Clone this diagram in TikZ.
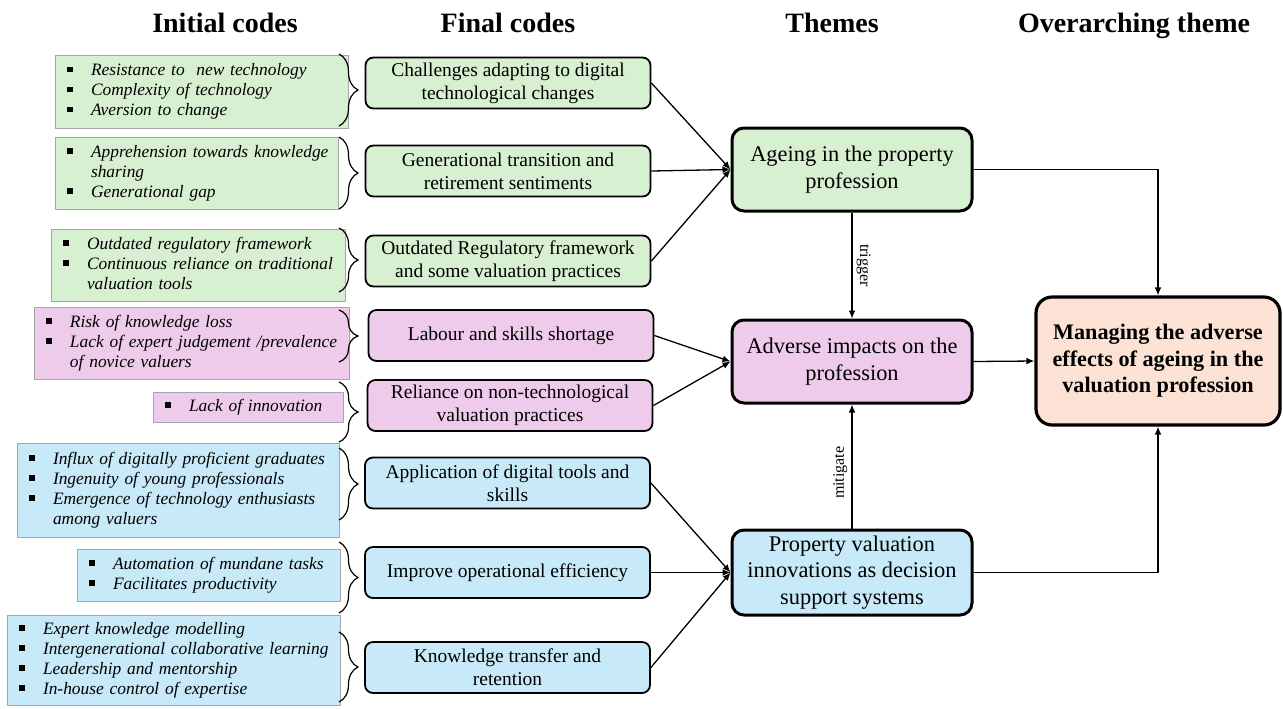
\documentclass[tikz,border=0pt]{standalone}
\usepackage{fontspec}
\setmainfont{Liberation Serif}
\usetikzlibrary{positioning, arrows.meta, calc, decorations.pathreplacing}
\definecolor{vpGreen}{HTML}{D8F0D2}
\definecolor{vpPink}{HTML}{EECBEA}
\definecolor{vpBlue}{HTML}{C7E9F8}
\definecolor{vpPeach}{HTML}{FBE2D5}
\definecolor{vpEdge}{HTML}{A6A6A6}
\newcommand{\sqb}{\rule[1.6pt]{2.8pt}{2.8pt}}
\newcommand{\ilist}[1]{\begin{tabular}{@{}p{12pt}@{}l@{}}#1\end{tabular}}
\tikzset{
  vp/.style={x=0.5pt, y=-0.5pt, line width=0.65pt},
  hdr/.style={font=\fontsize{14}{16}\selectfont\bfseries, anchor=base},
  icode/.style={draw=vpEdge, line width=0.5pt, inner xsep=6pt, inner ysep=0pt, align=left, font=\fontsize{8.7}{10}\selectfont\itshape},
  fcode/.style={draw, rounded corners=4pt, line width=0.9pt, minimum width=142.5pt, minimum height=25.5pt, align=center, inner sep=1pt, font=\fontsize{9.75}{11.5}\selectfont},
  theme/.style={draw, rounded corners=6pt, line width=1.5pt, minimum width=120pt, minimum height=41.5pt, align=center, inner sep=1pt, font=\fontsize{11.2}{13.2}\selectfont},
  over/.style={theme, fill=vpPeach, rounded corners=8pt, line width=1.6pt, minimum width=122pt, minimum height=64pt, font=\fontsize{11.1}{13.3}\selectfont\bfseries},
  arr/.style={-{Latex[length=4pt, width=3.4pt]}},
  brc/.style={decorate, decoration={brace, amplitude=9.5pt}, line width=0.6pt},
  lbl/.style={font=\fontsize{8}{9}\selectfont, inner sep=2pt},
}

\begin{document}
\begin{tikzpicture}[
  vp,
]
\useasboundingbox (0,0) rectangle (1283,708);

\node[hdr] (hIni) at (225,32) {Initial codes};
\node[hdr] (hFin) at (508,32) {Final codes};
\node[hdr] (hThm) at (832,32) {Themes};
\node[hdr] (hOvr) at (1134,32) {Overarching theme};

\node[icode, fill=vpGreen, text width=134.5pt, minimum height=36.5pt] (iTec) at (201.5,91.5) {\ilist{\sqb & Resistance to\ \ new technology\\ \sqb & Complexity of technology\\ \sqb & Aversion to change}};
\node[icode, fill=vpGreen, text width=129.5pt, minimum height=36pt] (iGap) at (196.5,173) {\ilist{\sqb & Apprehension towards knowledge\\ & sharing\\ \sqb & Generational gap}};
\node[icode, fill=vpGreen, text width=135pt, minimum height=36pt] (iOld) at (198,265) {\ilist{\sqb & Outdated regulatory framework\\ \sqb & Continuous reliance on traditional\\ & valuation tools}};
\node[icode, fill=vpPink, text width=145.5pt, minimum height=36pt] (iRsk) at (191.5,343) {\ilist{\sqb & Risk of knowledge loss\\ \sqb & Lack of expert judgement /prevalence\\ & of novice valuers}};
\node[icode, fill=vpPink, text width=83pt, minimum height=15pt] (iLck) at (248,407) {\ilist{\sqb & Lack of innovation}};
\node[icode, fill=vpBlue, text width=149pt, minimum height=47pt] (iDig) at (178,490) {\ilist{\sqb & Influx of digitally proficient graduates\\ \sqb & Ingenuity of young professionals\\ \sqb & Emergence of technology enthusiasts\\ & among valuers}};
\node[icode, fill=vpBlue, text width=119.5pt, minimum height=26pt] (iAut) at (208.5,575) {\ilist{\sqb & Automation of mundane tasks\\ \sqb & Facilitates productivity}};
\node[icode, fill=vpBlue, text width=154.5pt, minimum height=45pt] (iExp) at (173.5,660) {\ilist{\sqb & Expert knowledge modelling\\ \sqb & Intergenerational collaborative learning\\ \sqb & Leadership and mentorship\\ \sqb & In-house control of expertise}};

\draw[brc] (339,54) -- (339,126);
\draw[brc] (339,137) -- (339,209);
\draw[brc] (339,228) -- (339,292);
\draw[brc] (339,310) -- (339,362);
\draw[brc] (339,382) -- (339,442);
\draw[brc] (339,448) -- (339,520);
\draw[brc] (339,542) -- (339,613);
\draw[brc] (339,632) -- (339,702);

\node[fcode, fill=vpGreen] (fChl) at (508,83) {Challenges adapting to digital\\technological changes};
\node[fcode, fill=vpGreen] (fGen) at (508,171) {Generational transition and\\retirement sentiments};
\node[fcode, fill=vpGreen] (fReg) at (508,261) {Outdated Regulatory framework\\and some valuation practices};
\node[fcode, fill=vpPink] (fLab) at (511,335.5) {Labour and skills shortage};
\node[fcode, fill=vpPink] (fRel) at (510,405.5) {Reliance on non-technological\\valuation practices};
\node[fcode, fill=vpBlue] (fApp) at (507.5,483) {Application of digital tools and\\skills};
\node[fcode, fill=vpBlue] (fImp) at (507.5,572.5) {Improve operational efficiency};
\node[fcode, fill=vpBlue] (fKno) at (507.5,667.5) {Knowledge transfer and\\retention};

\node[theme, fill=vpGreen] (tAge) at (852,169.5) {Ageing in the property\\profession};
\node[theme, fill=vpPink] (tAdv) at (852,361.5) {Adverse impacts on the\\profession};
\node[theme, fill=vpBlue, minimum height=42.5pt] (tInn) at (852,572.5) {Property valuation\\innovations as decision\\support systems};
\node[over] (oMan) at (1158,361) {Managing the adverse\\effects of ageing in the\\valuation profession};

\draw[arr] (fChl.east) -- (tAge.west);
\draw[arr] (fGen.east) -- (tAge.west);
\draw[arr] (fReg.east) -- (tAge.west);
\draw[arr] (fLab.east) -- (tAdv.west);
\draw[arr] (fRel.east) -- (tAdv.west);
\draw[arr] (fApp.east) -- (tInn.west);
\draw[arr] (fImp.east) -- (tInn.west);
\draw[arr] (fKno.east) -- (tInn.west);

\draw[arr] (tAge.south) -- node[lbl, rotate=-90, anchor=south] {trigger} (tAdv.north);
\draw[arr] (tInn.north) -- node[lbl, rotate=90, anchor=south, pos=0.45] {mitigate} (tAdv.south);

\draw[arr] (tAge.east) -| (oMan.north);
\draw[arr] (tAdv.east) -- (oMan.west);
\draw[arr] (tInn.east) -| (oMan.south);
\end{tikzpicture}
\end{document}
